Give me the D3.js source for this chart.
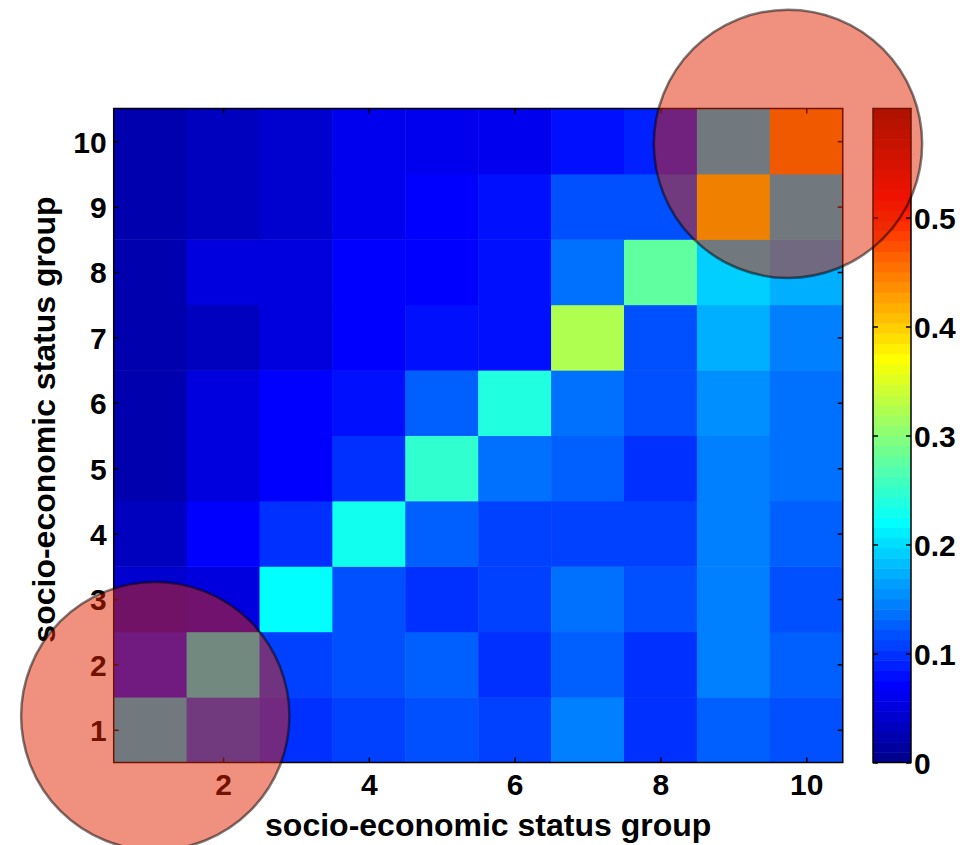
<!DOCTYPE html>
<html>
<head>
<meta charset="utf-8">
<script src="https://cdn.jsdelivr.net/npm/d3@7"></script>
<style>
  html, body { margin: 0; padding: 0; background: #ffffff; }
  svg { display: block; }
  text { font-family: "Liberation Sans", Arial, Helvetica, sans-serif; font-weight: bold; fill: #000; }
</style>
</head>
<body>
<svg id="chart" width="967" height="845"></svg>
<script>
// Socio-economic status groups (1 = lowest, 10 = highest)
const groups = [1, 2, 3, 4, 5, 6, 7, 8, 9, 10];

// Mixing values, one array per row group; entries follow column groups 1..10
const row1  = [0.196, 0.118, 0.101, 0.111, 0.113, 0.104, 0.149, 0.101, 0.131, 0.113];
const row2  = [0.075, 0.213, 0.106, 0.119, 0.127, 0.103, 0.122, 0.103, 0.143, 0.122];
const row3  = [0.038, 0.056, 0.216, 0.116, 0.103, 0.111, 0.140, 0.113, 0.146, 0.119];
const row4  = [0.036, 0.072, 0.101, 0.225, 0.131, 0.110, 0.109, 0.104, 0.146, 0.131];
const row5  = [0.027, 0.054, 0.070, 0.100, 0.251, 0.134, 0.131, 0.103, 0.146, 0.140];
const row6  = [0.027, 0.056, 0.072, 0.078, 0.122, 0.240, 0.134, 0.116, 0.151, 0.140];
const row7  = [0.020, 0.034, 0.056, 0.068, 0.078, 0.082, 0.328, 0.116, 0.178, 0.149];
const row8  = [0.022, 0.050, 0.056, 0.068, 0.068, 0.082, 0.133, 0.276, 0.195, 0.172];
const row9  = [0.022, 0.034, 0.042, 0.060, 0.074, 0.082, 0.114, 0.116, 0.385, 0.191];
const row10 = [0.019, 0.032, 0.042, 0.060, 0.062, 0.062, 0.082, 0.086, 0.191, 0.437];
const rows = [row1, row2, row3, row4, row5, row6, row7, row8, row9, row10];

// Tick labels
const xTicks = [2, 4, 6, 8, 10];
const yTicks = [1, 2, 3, 4, 5, 6, 7, 8, 9, 10];
const colorTicks = [0, 0.1, 0.2, 0.3, 0.4, 0.5];
const colorLimit = [0, 0.6];

// Highlight circle centres in group units (column group, row group)
const highlights = [[1.07, 1.21], [9.75, 9.96]];

// ---------------------------------------------------------------
const svg = d3.select("#chart");

const plot = { left: 113.7, right: 842.7, top: 108.5, bottom: 762.5 };
const bar = { left: 873, right: 911 };

// MATLAB-style jet colormap with 64 entries
function jet64() {
  const m = 64, n = 16;
  const u = [];
  for (let k = 1; k <= n; k++) u.push(k / n);
  for (let k = 0; k < n - 1; k++) u.push(1);
  for (let k = n; k >= 1; k--) u.push(k / n);
  const g0 = Math.ceil(n / 2) - (m % 4 === 1 ? 1 : 0);
  const cols = d3.range(m).map(() => [0, 0, 0]);
  u.forEach((val, k) => {
    const g = g0 + k + 1, r = g + n, b = g - n;
    if (r >= 1 && r <= m) cols[r - 1][0] = val;
    if (g >= 1 && g <= m) cols[g - 1][1] = val;
    if (b >= 1 && b <= m) cols[b - 1][2] = val;
  });
  return cols.map(c => d3.rgb(Math.round(c[0] * 255), Math.round(c[1] * 255), Math.round(c[2] * 255)).formatHex());
}
const palette = jet64();
const color = d3.scaleQuantize().domain(colorLimit).range(palette);

const x = d3.scaleLinear().domain([0.5, 10.5]).range([plot.left, plot.right]);
const y = d3.scaleLinear().domain([0.5, 10.5]).range([plot.bottom, plot.top]);
const cy = d3.scaleLinear().domain(colorLimit).range([plot.bottom, plot.top]);

// Heatmap cells
const cells = [];
rows.forEach((r, i) => r.forEach((v, j) => cells.push({ row: groups[i], col: groups[j], v })));

svg.append("g").selectAll("rect").data(cells).join("rect")
  .attr("x", d => x(d.col - 0.5))
  .attr("y", d => y(d.row + 0.5))
  .attr("width", d => x(d.col + 0.5) - x(d.col - 0.5) + 0.5)
  .attr("height", d => y(d.row - 0.5) - y(d.row + 0.5) + 0.5)
  .attr("fill", d => color(d.v));

// Axes with inward ticks on all four sides
const tick = 5;
function styleAxis(g) {
  g.select(".domain").remove();
  g.selectAll(".tick line").attr("stroke", "#000").attr("stroke-width", 1.5);
}
svg.append("g").attr("transform", `translate(0,${plot.bottom})`)
  .call(d3.axisBottom(x).tickValues(xTicks).tickSize(-tick).tickPadding(10).tickFormat(d3.format("d")))
  .call(styleAxis)
  .selectAll("text").attr("font-size", 30).attr("dy", "0.72em").attr("y", 11);
svg.append("g").attr("transform", `translate(0,${plot.top})`)
  .call(d3.axisTop(x).tickValues(xTicks).tickSize(-tick).tickFormat(""))
  .call(styleAxis);
svg.append("g").attr("transform", `translate(${plot.left},0)`)
  .call(d3.axisLeft(y).tickValues(yTicks).tickSize(-tick).tickPadding(8).tickFormat(d3.format("d")))
  .call(styleAxis)
  .selectAll("text").attr("font-size", 30).attr("x", -7).attr("dy", "0.36em");
svg.append("g").attr("transform", `translate(${plot.right},0)`)
  .call(d3.axisRight(y).tickValues(yTicks).tickSize(-tick).tickFormat(""))
  .call(styleAxis);

svg.append("rect")
  .attr("x", plot.left).attr("y", plot.top)
  .attr("width", plot.right - plot.left).attr("height", plot.bottom - plot.top)
  .attr("fill", "none").attr("stroke", "#000").attr("stroke-width", 1.5);

// Axis titles
svg.append("text")
  .attr("x", (plot.left + plot.right) / 2 + 10).attr("y", 836)
  .attr("text-anchor", "middle").attr("font-size", 32)
  .text("socio-economic status group");
svg.append("text")
  .attr("transform", `translate(55,${(plot.top + plot.bottom) / 2 - 16}) rotate(-90)`)
  .attr("text-anchor", "middle").attr("font-size", 32)
  .text("socio-economic status group");

// Colour bar
const step = (colorLimit[1] - colorLimit[0]) / palette.length;
svg.append("g").selectAll("rect").data(palette).join("rect")
  .attr("x", bar.left)
  .attr("y", (c, i) => cy(colorLimit[0] + (i + 1) * step))
  .attr("width", bar.right - bar.left)
  .attr("height", (c, i) => cy(colorLimit[0] + i * step) - cy(colorLimit[0] + (i + 1) * step) + 0.5)
  .attr("fill", c => c);

svg.append("g").attr("transform", `translate(${bar.right},0)`)
  .call(d3.axisRight(cy).tickValues(colorTicks).tickSize(-tick).tickPadding(4).tickFormat(d => d === 0 ? "0" : d3.format(".1f")(d)))
  .call(styleAxis)
  .selectAll("text").attr("font-size", 30).attr("x", 3).attr("dy", "0.36em");
svg.append("g").attr("transform", `translate(${bar.left},0)`)
  .call(d3.axisLeft(cy).tickValues(colorTicks).tickSize(-tick).tickFormat(""))
  .call(styleAxis);
svg.append("rect")
  .attr("x", bar.left).attr("y", plot.top)
  .attr("width", bar.right - bar.left).attr("height", plot.bottom - plot.top)
  .attr("fill", "none").attr("stroke", "#000").attr("stroke-width", 1.5);

// Translucent highlight circles over the strongest within-group mixing
const cellW = x(1.5) - x(0.5);
svg.append("g").selectAll("circle").data(highlights).join("circle")
  .attr("cx", d => x(d[0]))
  .attr("cy", d => y(d[1]))
  .attr("r", cellW * 1.84)
  .attr("fill", "rgb(225,36,0)").attr("fill-opacity", 0.5)
  .attr("stroke", "#000").attr("stroke-opacity", 0.5).attr("stroke-width", 2.5);
</script>
</body>
</html>
